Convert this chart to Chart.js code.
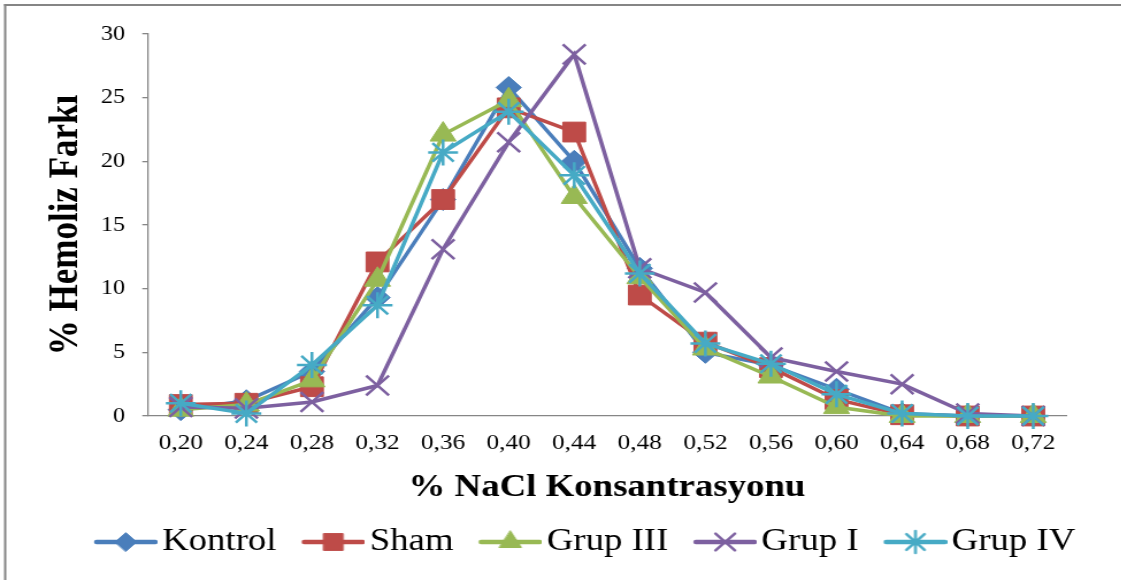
<!DOCTYPE html>
<html>
<head>
<meta charset="utf-8">
<script src="https://cdn.jsdelivr.net/npm/chart.js@4.4.0/dist/chart.umd.min.js"></script>
<style>
  html, body { margin: 0; padding: 0; background: #ffffff; overflow: hidden; }
  #wrap { position: absolute; left: 0; top: 0; width: 975px; height: 580px;
          transform: scaleX(1.15); transform-origin: 0 0; }
</style>
</head>
<body>
<div id="wrap"><canvas id="chart" width="975" height="580"></canvas></div>
<script>
// NaCl concentrations (%) on the x axis
const concentrations = ['0,20', '0,24', '0,28', '0,32', '0,36', '0,40', '0,44',
                        '0,48', '0,52', '0,56', '0,60', '0,64', '0,68', '0,72'];

// Hemolysis difference (%) per group
const kontrol = [0.5, 1.2, 3.5, 9.3, 17.0, 25.8, 20.0, 11.6, 5.0, 4.0, 2.1, 0.2, 0, 0];
const sham    = [0.9, 1.0, 2.3, 12.1, 17.0, 24.2, 22.3, 9.5, 5.8, 3.8, 1.3, 0.1, 0, 0];
const grup3   = [0.5, 0.9, 2.8, 10.7, 22.1, 24.8, 17.2, 10.9, 5.3, 3.1, 0.7, 0, 0, 0];
const grup1   = [0.7, 0.6, 1.1, 2.4, 13.1, 21.5, 28.4, 11.6, 9.7, 4.6, 3.5, 2.5, 0.2, 0];
const grup4   = [1.0, 0.2, 4.0, 8.7, 20.7, 23.9, 18.9, 11.2, 5.7, 4.1, 1.7, 0.2, 0, 0];

// Y axis tick values
const yTicks = [0, 5, 10, 15, 20, 25, 30];

const seriesNames = ['Kontrol', 'Sham', 'Grup III', 'Grup I', 'Grup IV'];
const seriesData = [kontrol, sham, grup3, grup1, grup4];
const colors = ['#4a7ebb', '#be4b48', '#98b954', '#7d60a0', '#46aac5'];
const markers = [
  { style: 'rectRot',  radius: 11, border: 1 },
  { style: 'rect',     radius: 14, border: 1 },
  { style: 'triangle', radius: 13, border: 1 },
  { style: 'crossRot', radius: 14, border: 2.5 },
  { style: 'star',     radius: 13, border: 2.5 }
];

const SERIF = '"Liberation Serif", "Times New Roman", serif';
const AXIS_GREY = '#868686';

// Legend icon: a short line with the series marker in the middle
function legendIcon(i) {
  const c = document.createElement('canvas');
  c.width = 67; c.height = 30;
  const ctx = c.getContext('2d');
  ctx.strokeStyle = colors[i];
  ctx.fillStyle = colors[i];
  ctx.lineWidth = 4.5;
  ctx.lineCap = 'round';
  ctx.beginPath();
  ctx.moveTo(14, 15);
  ctx.lineTo(65, 15);
  ctx.stroke();
  ctx.lineWidth = markers[i].border;
  Chart.helpers.drawPoint(ctx, {
    pointStyle: markers[i].style,
    radius: markers[i].radius * 0.85,
    rotation: 0,
    borderWidth: markers[i].border
  }, 39.5, 15);
  return c;
}

// Page frame lines
const framePlugin = {
  id: 'frame',
  beforeDraw(chart) {
    const ctx = chart.ctx;
    ctx.save();
    ctx.fillStyle = '#ffffff';
    ctx.fillRect(0, 0, chart.width, chart.height);
    ctx.fillStyle = '#858585';
    ctx.fillRect(3.5, 4, 2, chart.height - 4);
    ctx.fillRect(3.5, 4, chart.width, 2);
    ctx.restore();
  }
};

// Centre the legend row under the whole figure rather than the layout box
const legendShift = {
  id: 'legendShift',
  afterLayout(chart) {
    const lg = chart.legend;
    if (lg) { lg.left += 45; lg.right += 45; }
  }
};

const datasets = seriesNames.map((name, i) => ({
  label: name,
  data: seriesData[i],
  borderColor: colors[i],
  backgroundColor: colors[i],
  borderWidth: 3.5,
  pointStyle: markers[i].style,
  pointRadius: markers[i].radius,
  pointHoverRadius: markers[i].radius,
  pointBorderWidth: markers[i].border,
  pointBackgroundColor: colors[i],
  pointBorderColor: colors[i],
  tension: 0,
  clip: false,
  order: seriesNames.length - i
}));

new Chart(document.getElementById('chart'), {
  type: 'line',
  data: { labels: concentrations, datasets },
  options: {
    responsive: false,
    animation: false,
    devicePixelRatio: 1,
    layout: { padding: { left: 0, right: 48, top: 34, bottom: 12 } },
    plugins: {
      tooltip: { enabled: false },
      legend: {
        position: 'bottom',
        labels: {
          usePointStyle: true,
          pointStyleWidth: 43,
          padding: 22,
          color: '#000000',
          font: { family: SERIF, size: 32 },
          sort: (a, b) => a.datasetIndex - b.datasetIndex,
          generateLabels: (chart) => chart.data.datasets.map((ds, i) => ({
            text: ds.label,
            datasetIndex: i,
            pointStyle: legendIcon(i),
            fillStyle: colors[i],
            strokeStyle: colors[i],
            lineWidth: 0,
            hidden: false,
            fontColor: '#000000'
          }))
        }
      }
    },
    scales: {
      x: {
        type: 'category',
        offset: true,
        afterFit(scale) { scale.height = 88; },
        grid: { display: false, drawTicks: false },
        border: { display: true, color: AXIS_GREY, width: 1.3 },
        ticks: {
          color: '#000000',
          padding: 14,
          maxRotation: 0,
          autoSkip: false,
          font: { family: SERIF, size: 22 }
        },
        title: {
          display: true,
          text: '% NaCl Konsantrasyonu',
          color: '#000000',
          padding: { top: 0, bottom: -3 },
          font: { family: SERIF, size: 32, weight: 'bold' }
        }
      },
      y: {
        min: 0,
        max: 30,
        afterFit(scale) { scale.width = 128.7; },
        afterBuildTicks(scale) { scale.ticks = yTicks.map(v => ({ value: v })); },
        grid: {
          drawOnChartArea: false,
          drawTicks: true,
          tickLength: 5,
          color: AXIS_GREY,
          lineWidth: 1.3
        },
        border: { display: true, color: AXIS_GREY, width: 1.3 },
        ticks: {
          color: '#000000',
          padding: 15,
          font: { family: SERIF, size: 21 }
        },
        title: {
          display: true,
          text: '% Hemoliz Farkı',
          color: '#000000',
          padding: { top: 37, bottom: 0 },
          font: { family: SERIF, size: 35, weight: 'bold' }
        }
      }
    }
  },
  plugins: [framePlugin, legendShift]
});
</script>
</body>
</html>
